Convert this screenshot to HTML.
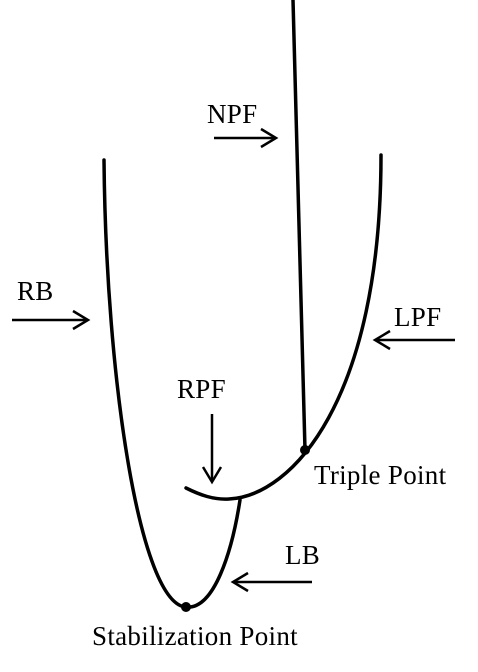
<!DOCTYPE html>
<html><head><meta charset="utf-8"><style>
html,body{margin:0;padding:0;background:#fff;}
svg{display:block;}
text{font-family:"Liberation Serif",serif;font-size:27px;fill:#000;letter-spacing:0.3px;}
</style></head><body>
<svg width="478" height="672" viewBox="0 0 478 672">
<g fill="none" stroke="#000" stroke-width="3.5" stroke-linecap="round">
<path d="M104,160 C106,380 140,604 186,607 C214,610 232,552 240,500"/>
<path d="M186,488 C200,495 214,500 229,499 C292,496 381,400 381,155"/>
<line x1="293" y1="0" x2="305" y2="450"/>
</g>
<g stroke="#000" stroke-width="2.5" fill="none">
<g><line x1="12" y1="320" x2="88" y2="320"/><polyline points="73,311 88,320 73,329"/></g>
<g><line x1="214" y1="138" x2="276" y2="138"/><polyline points="261,129 276,138 261,147"/></g>
<g><line x1="455" y1="340" x2="375" y2="340"/><polyline points="390,331 375,340 390,349"/></g>
<g><line x1="212" y1="414" x2="212" y2="482"/><polyline points="203,467 212,482 221,467"/></g>
<g><line x1="312" y1="582" x2="233" y2="582"/><polyline points="248,573 233,582 248,591"/></g>
</g>
<circle cx="186" cy="607" r="5" fill="#000"/>
<circle cx="305" cy="450" r="5" fill="#000"/>
<text x="17" y="300">RB</text>
<text x="207" y="123">NPF</text>
<text x="394" y="326">LPF</text>
<text x="177" y="398">RPF</text>
<text x="285" y="564">LB</text>
<text x="314" y="484">Triple Point</text>
<text x="92" y="645">Stabilization Point</text>
</svg>
</body></html>
